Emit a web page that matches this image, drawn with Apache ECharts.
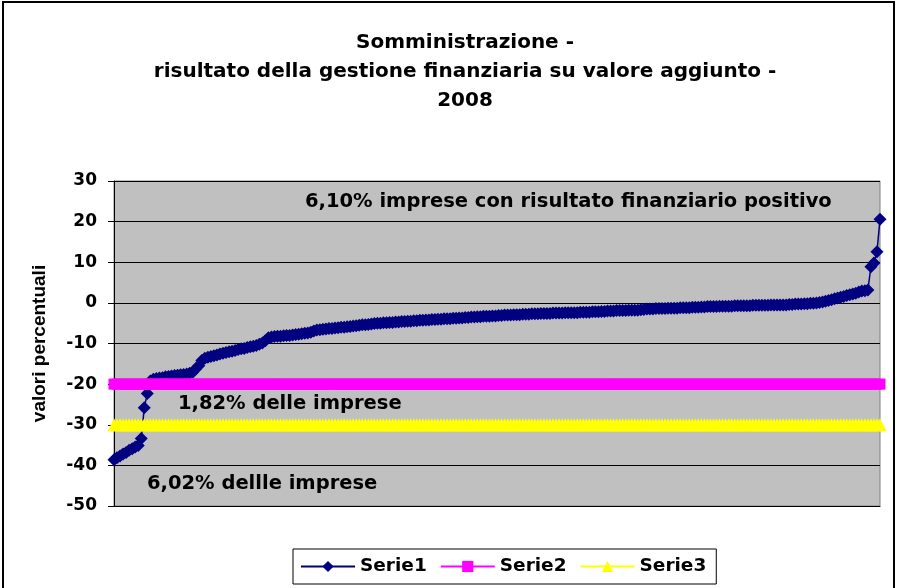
<!DOCTYPE html>
<html>
<head>
<meta charset="utf-8">
<title>Somministrazione 2008</title>
<script src="https://cdn.jsdelivr.net/npm/echarts@6/dist/echarts.min.js"></script>
<style>
	html, body { margin: 0; padding: 0; background: #fff; }
	#chart { width: 898px; height: 588px; }
</style>
</head>
<body>
<div id="chart"></div>
<script>
	// valori (imprese ordinate)
	const serie1 = [
		-38.6, -38.1, -37.7, -37.2, -36.8, -36.3, -35.9, -35.5, -35.1,
		-33.4, -25.8, -22.3, -19.2,
		-18.8, -18.6, -18.5, -18.4, -18.2, -18.1, -18.0, -17.9, -17.8, -17.7, -17.6, -17.5, -17.3, -17.1, -16.2,
		-15.5, -14.2, -13.6,
		-13.4, -13.2, -13.0, -12.8, -12.6, -12.4, -12.2, -12.0, -11.9, -11.7, -11.5, -11.3, -11.2, -11.0, -10.8, -10.7, -10.5, -10.2, -9.9,
		-9.3, -8.6,
		-8.4, -8.3, -8.2, -8.2, -8.1, -8.0, -8.0, -7.9, -7.8, -7.7, -7.6, -7.5, -7.4, -7.2,
		-6.9, -6.7, -6.6, -6.5, -6.4, -6.3, -6.3, -6.2, -6.1, -6.0, -6.0,
		-5.9, -5.8, -5.7, -5.6, -5.5, -5.4, -5.4, -5.3, -5.2, -5.1, -5.0, -5.0,
		-4.9, -4.9, -4.8, -4.8, -4.7, -4.7, -4.6, -4.6, -4.5, -4.5, -4.4, -4.4, -4.3, -4.3, -4.2, -4.2, -4.1, -4.1, -4.0, -4.0, -3.9, -3.9, -3.9, -3.8, -3.8, -3.7, -3.7,
		-3.6, -3.6, -3.5, -3.5, -3.4, -3.4, -3.3, -3.3, -3.3, -3.2, -3.2, -3.1, -3.1, -3.0, -3.0, -3.0, -2.9, -2.9, -2.9, -2.8, -2.8, -2.8, -2.7, -2.7, -2.7, -2.6, -2.6,
		-2.6, -2.6, -2.5, -2.5, -2.5, -2.5, -2.4, -2.4, -2.4, -2.4, -2.4, -2.3, -2.3, -2.3, -2.3, -2.2, -2.2, -2.2, -2.1, -2.1,
		-2.0, -2.0, -2.0, -1.9, -1.9, -1.9, -1.9, -1.8, -1.8, -1.8, -1.8, -1.7, -1.6,
		-1.5, -1.5, -1.5, -1.4, -1.4, -1.4, -1.4, -1.3, -1.3, -1.3, -1.3, -1.2, -1.2, -1.2, -1.2, -1.1, -1.1, -1.1, -1.0, -1.0,
		-0.9, -0.9, -0.9, -0.9, -0.8, -0.8, -0.8, -0.8, -0.8, -0.7, -0.7, -0.7, -0.7, -0.7, -0.7, -0.6, -0.6, -0.6, -0.6, -0.6, -0.6, -0.5, -0.5, -0.5, -0.5, -0.5, -0.5,
		-0.4, -0.4, -0.3, -0.3, -0.3, -0.2, -0.2, -0.1, -0.1, 0.0,
		0.1, 0.2, 0.4, 0.6, 0.8, 1.0, 1.2, 1.4, 1.6, 1.8, 2.0, 2.2, 2.4, 2.7, 2.9,
		3.0, 3.2, 8.9, 9.8, 12.6, 20.6
	]
	// soglie costanti
	const soglia2 = -20
	const soglia3 = -30
	const categorie = serie1.map((v, i) => String(i + 1))
	const serie2 = categorie.map(() => soglia2)
	const serie3 = categorie.map(() => soglia3)
	const yTicks = [30, 20, 10, 0, -10, -20, -30, -40, -50]

	const font = 'DejaVu Sans'
	const chart = echarts.init(document.getElementById('chart'))
	const option = {
		animation: false,
		backgroundColor: '#fff',
		title: {
			text: 'Somministrazione -\nrisultato della gestione finanziaria su valore aggiunto -\n2008',
			left: 460,
			textAlign: 'center',
			top: 23,
			textStyle: {
				fontFamily: font,
				fontWeight: 'bold',
				fontSize: 20,
				lineHeight: 29,
				color: '#000'
			}
		},
		grid: {
			left: 114,
			right: 18,
			top: 181,
			bottom: 82,
			show: true,
			backgroundColor: '#c0c0c0',
			borderColor: '#808080',
			borderWidth: 1
		},
		legend: {
			left: 293,
			bottom: 4,
			itemWidth: 54,
			itemHeight: 14,
			itemGap: 13,
			padding: [8, 10, 8, 7],
			borderColor: '#000',
			borderWidth: 1,
			backgroundColor: '#fff',
			textStyle: {
				fontFamily: font,
				fontWeight: 'bold',
				fontSize: 18.5,
				color: '#000'
			},
			data: ['Serie1', 'Serie2', 'Serie3']
		},
		xAxis: {
			type: 'category',
			boundaryGap: false,
			data: categorie,
			axisLine: { onZero: false, lineStyle: { color: '#000', width: 1 } },
			axisTick: { show: false },
			axisLabel: { show: false },
			splitLine: { show: false }
		},
		yAxis: {
			type: 'value',
			min: yTicks[yTicks.length - 1],
			max: yTicks[0],
			interval: 10,
			name: 'valori percentuali',
			nameLocation: 'middle',
			nameRotate: 90,
			nameGap: 65,
			nameTextStyle: {
				fontFamily: 'Liberation Sans',
				fontWeight: 'bold',
				fontSize: 19,
				color: '#000'
			},
			axisLine: { show: true, lineStyle: { color: '#000', width: 1 } },
			axisTick: { show: true, length: 6, lineStyle: { color: '#000' } },
			axisLabel: {
				margin: 17,
				fontFamily: font,
				fontWeight: 'bold',
				fontSize: 17,
				color: '#000'
			},
			splitLine: { show: true, lineStyle: { color: '#000', width: 1 } }
		},
		series: [
			{
				name: 'Serie1',
				type: 'line',
				data: serie1,
				symbol: 'diamond',
				symbolSize: 13,
				showAllSymbol: true,
				color: '#000080',
				lineStyle: { color: '#000080', width: 1.5 },
				itemStyle: { color: '#000080' }
			},
			{
				name: 'Serie2',
				type: 'line',
				data: serie2,
				symbol: 'rect',
				symbolSize: 11,
				showAllSymbol: true,
				color: '#ff00ff',
				lineStyle: { color: '#ff00ff', width: 2 },
				itemStyle: { color: '#ff00ff' }
			},
			{
				name: 'Serie3',
				type: 'line',
				data: serie3,
				symbol: 'triangle',
				symbolSize: 13,
				showAllSymbol: true,
				color: '#ffff00',
				lineStyle: { color: '#ffff00', width: 2 },
				itemStyle: { color: '#ffff00' }
			}
		],
		graphic: [
			{
				type: 'rect',
				shape: { x: 3, y: 2, width: 891, height: 600 },
				style: { fill: null, stroke: '#000', lineWidth: 2 },
				z: 100
			},
			{
				type: 'text', left: 305, top: 192, z: 100,
				style: { text: '6,10% imprese con risultato finanziario positivo', font: 'bold 19.5px "DejaVu Sans"', fill: '#000' }
			},
			{
				type: 'text', left: 178, top: 394, z: 100,
				style: { text: '1,82% delle imprese', font: 'bold 19.5px "DejaVu Sans"', fill: '#000' }
			},
			{
				type: 'text', left: 147, top: 474, z: 100,
				style: { text: '6,02% dellle imprese', font: 'bold 19.5px "DejaVu Sans"', fill: '#000' }
			}
		]
	}
	chart.setOption(option)
</script>
</body>
</html>
